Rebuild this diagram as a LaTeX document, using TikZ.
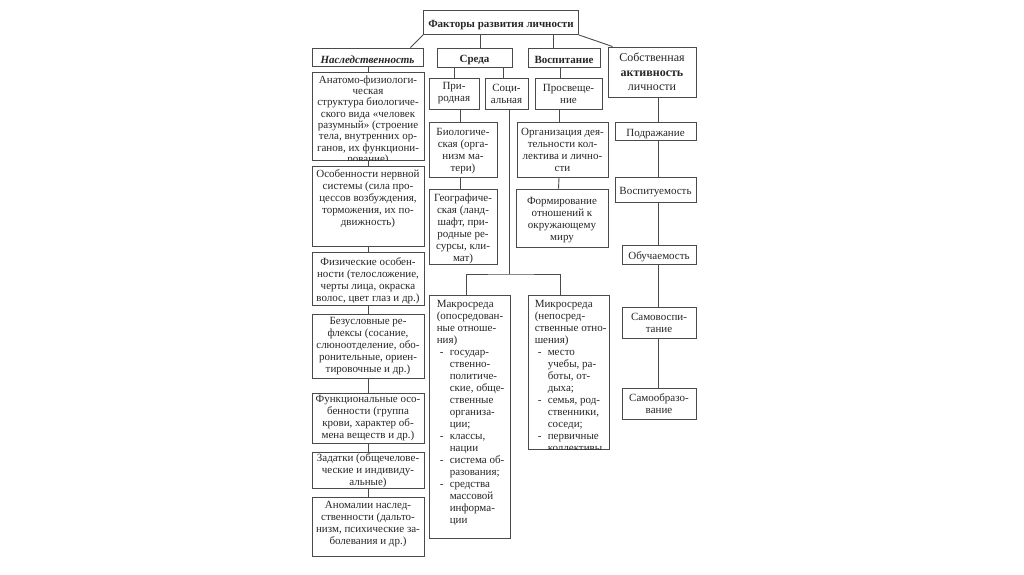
\documentclass[tikz,border=0pt]{standalone}
\usepackage{fontspec}
\setmainfont{Liberation Serif}
\usetikzlibrary{positioning}

\definecolor{framegray}{HTML}{4A4A4A}
\definecolor{textgray}{HTML}{262626}

\newcommand{\dashitem}{\makebox[13pt][l]{\hspace{3pt}-}}
\newcommand{\dashcont}{\hspace*{13pt}}
% text block moved up or down inside its frame
\newcommand{\liftbox}[2]{\raisebox{#1}[\height][\depth]{\begin{tabular}{@{}c@{}}#2\end{tabular}}}

\tikzset{
  dims/.style 2 args={minimum width=#1, minimum height=#2},
  lower/.style={execute at begin node={\rule{0pt}{#1}}},
  factor/.style={draw=framegray, line width=0.9pt, text=textgray, align=center,
    inner sep=1pt, font=\fontsize{11}{12}\selectfont},
  single/.style={factor, lower=13pt},
  head/.style={single, font=\fontsize{11}{13}\selectfont\bfseries},
  listtext/.style={anchor=north west, inner sep=0pt, align=left, text=textgray,
    font=\fontsize{11}{12}\selectfont},
  link/.style={draw=framegray, line width=0.9pt},
}

\begin{document}
\begin{tikzpicture}[x=1pt, y=-1pt]
  \useasboundingbox (0,0) rectangle (1024,574);

  % top
  \node[head, dims={155}{24}] (factors) at (501,22.5) {Факторы развития личности};

  % second row
  \node[head, dims={111}{18}, font=\fontsize{11}{13}\selectfont\bfseries\itshape] (nasl) at (367.5,57) {Наследственность};
  \node[head, dims={75}{19}] (sreda) at (474.5,57.5) {Среда};
  \node[head, dims={72}{19}] (vosp) at (564,57.5) {Воспитание};
  \node[factor, dims={88}{50}, font=\fontsize{12}{14.5}\selectfont] (sob) at (652,72)
    {Собственная\\\textbf{активность}\\личности};

  % heredity column
  \node[factor, dims={112}{88}] (anat) at (368,116) {};
  \begin{scope}
    \clip (anat.south west) rectangle (anat.north east);
    \node[anchor=north, inner sep=0pt, align=center, text=textgray,
      font=\fontsize{11}{11.3}\selectfont] (anattxt) at ([shift={(0,4)}]anat.north)
      {Анатомо-физиологи-\\ческая\\структура биологиче-\\ского вида «человек\\разумный» (строение\\тела, внутренних ор-\\ганов, их функциони-\\рование)};
  \end{scope}
  \node[factor, dims={112}{80}] (nerv) at (368,206)
    {\liftbox{7pt}{Особенности нервной\\системы (сила про-\\цессов возбуждения,\\торможения, их по-\\движность)}};
  \node[factor, dims={112}{53}] (phys) at (368,278.5)
    {\liftbox{-2.5pt}{Физические особен-\\ности (телосложение,\\черты лица, окраска\\волос, цвет глаз и др.)}};
  \node[factor, dims={112}{64}] (refl) at (368,346)
    {Безусловные ре-\\флексы (сосание,\\слюноотделение, обо-\\ронительные, ориен-\\тировочные и др.)};
  \node[factor, dims={112}{50}] (func) at (368,418)
    {Функциональные осо-\\бенности (группа\\крови, характер об-\\мена веществ и др.)};
  \node[factor, dims={112}{35}] (zad) at (368,470.5)
    {Задатки (общечелове-\\ческие и индивиду-\\альные)};
  \node[factor, dims={112}{59}] (anom) at (368,526.5)
    {\liftbox{2pt}{Аномалии наслед-\\ственности (дальто-\\низм, психические за-\\болевания и др.)}};

  % environment
  \node[factor, dims={50}{31}] (prir) at (454,93.5) {При-\\родная};
  \node[factor, dims={43}{31}] (soc) at (506.5,93.5) {Соци-\\альная};
  \node[factor, dims={68}{55}] (bio) at (463,149.5)
    {\liftbox{-2pt}{Биологиче-\\ская (орга-\\низм ма-\\тери)}};
  \node[factor, dims={68}{75}] (geo) at (463,226.5)
    {\liftbox{-3pt}{Географиче-\\ская (ланд-\\шафт, при-\\родные ре-\\сурсы, кли-\\мат)}};
  \node[factor, dims={81}{243}] (makro) at (469.5,416.5) {};
  \node[factor, dims={81}{154}] (mikro) at (568.5,372) {};

  % upbringing
  \node[factor, dims={67}{31}] (pros) at (568.5,93.5) {Просвеще-\\ние};
  \node[factor, dims={91}{55}] (org) at (562.5,149.5) {Организация дея-\\тельности кол-\\лектива и лично-\\сти};
  \node[factor, dims={92}{58}] (form) at (562,218)
    {\liftbox{-2pt}{Формирование\\отношений к\\окружающему\\миру}};

  % own activity
  \node[single, dims={81}{17}] (podr) at (655.5,131.5) {Подражание};
  \node[single, dims={81}{25}] (vospit) at (655.5,189.5) {Воспитуемость};
  \node[single, dims={74}{19}] (obuch) at (659,254.5) {Обучаемость};
  \node[factor, dims={74}{31}] (samovosp) at (659,322.5) {Самовоспи-\\тание};
  \node[factor, dims={74}{31}] (samoobr) at (659,403.5) {Самообразо-\\вание};

  % list texts
  \begin{scope}
    \clip (makro.south west) rectangle (makro.north east);
    \node[listtext] (makrotxt) at ([shift={(8,6)}]makro.north west)
      {Макросреда\\(опосредован-\\ные отноше-\\ния)\\
       \dashitem государ-\\\dashcont ственно-\\\dashcont политиче-\\\dashcont ские, обще-\\\dashcont ственные\\\dashcont организа-\\\dashcont ции;\\
       \dashitem классы,\\\dashcont нации\\
       \dashitem система об-\\\dashcont разования;\\
       \dashitem средства\\\dashcont массовой\\\dashcont информа-\\\dashcont ции};
  \end{scope}
  \begin{scope}
    \clip (mikro.south west) rectangle (mikro.north east);
    \node[listtext] (mikrotxt) at ([shift={(7,6)}]mikro.north west)
      {Микросреда\\(непосред-\\ственные отно-\\шения)\\
       \dashitem место\\\dashcont учебы, ра-\\\dashcont боты, от-\\\dashcont дыха;\\
       \dashitem семья, род-\\\dashcont ственники,\\\dashcont соседи;\\
       \dashitem первичные\\\dashcont коллективы};
  \end{scope}

  % connectors
  \draw[link] (factors.south west) -- ([xshift=-13pt]nasl.north east);
  \draw[link] ([xshift=5.5pt]sreda.north |- factors.south) -- ([xshift=5.5pt]sreda.north);
  \draw[link] ([xshift=-11pt]vosp.north |- factors.south) -- ([xshift=-11pt]vosp.north);
  \draw[link] (factors.south east) -- ([xshift=5pt]sob.north west);

  \foreach \a/\b in {nasl/anat, anat/nerv, nerv/phys, phys/refl, refl/func, func/zad, zad/anom}
    \draw[link] (\a.south -| \b.north) -- (\b.north);

  \draw[link] (sreda.south -| prir.north) -- (prir.north);
  \draw[link] ([xshift=-3.5pt]soc.north |- sreda.south) -- ([xshift=-3.5pt]soc.north);
  \draw[link] ([xshift=-8.5pt]pros.north |- vosp.south) -- ([xshift=-8.5pt]pros.north);
  \draw[link] ([xshift=-3pt]bio.north |- prir.south) -- ([xshift=-3pt]bio.north);
  \draw[link] ([xshift=-3pt]bio.south) -- ([xshift=-3pt]geo.north);
  \draw[link] ([xshift=-3.5pt]org.north |- pros.south) -- ([xshift=-3.5pt]org.north);
  \draw[link] ([xshift=-3.5pt]org.south) -- ([xshift=-3.5pt]form.north);

  \coordinate (split) at (509,274);
  \draw[link] (soc.south -| split) -- (split);
  \draw[link] ([xshift=-3.5pt]makro.north) |- (split) -| ([xshift=-8.5pt]mikro.north);

  \coordinate (axis) at (658,0);
  \foreach \a/\b in {sob/podr, podr/vospit, vospit/obuch, obuch/samovosp, samovosp/samoobr}
    \draw[link] (\a.south -| axis) -- (\b.north -| axis);
\end{tikzpicture}
\end{document}
